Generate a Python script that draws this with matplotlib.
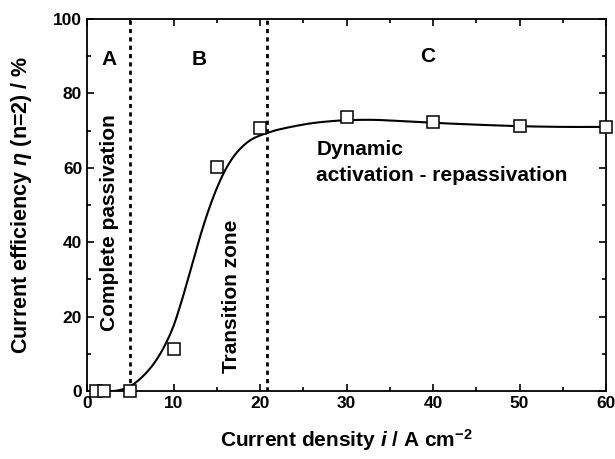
import numpy as np
import matplotlib
matplotlib.use("Agg")
from matplotlib import pyplot as plt
from matplotlib.ticker import MultipleLocator

plt.rcParams["font.family"] = ["Liberation Sans", "DejaVu Sans"]
plt.rcParams["font.weight"] = "bold"
plt.rcParams["mathtext.fontset"] = "custom"
plt.rcParams["mathtext.rm"] = "Liberation Sans:bold"
plt.rcParams["mathtext.it"] = "Liberation Sans:bold:italic"
plt.rcParams["mathtext.bf"] = "Liberation Sans:bold"

# measured points
current = [1, 2, 5, 10, 15, 20, 30, 40, 50, 60]
efficiency = [0, 0, 0, 11.2, 60.2, 70.6, 73.6, 72.3, 71.2, 71.0]

# fitted curve
fit_x = [2, 3, 4, 5, 6, 7, 8, 9, 10, 11, 12, 13, 14, 15, 16, 17, 18, 19, 20,
         21, 22, 24, 26, 28, 30, 33, 36, 40, 45, 50, 55, 60]
fit_y = [0, 0, 0.4, 1.3, 3.0, 5.3, 8.3, 12.3, 17.5, 24.7, 32.8, 41.0, 48.3,
         54.5, 59.5, 63.2, 65.8, 67.6, 68.7, 69.5, 70.2, 71.2, 72.0, 72.5,
         72.8, 72.9, 72.6, 72.1, 71.6, 71.2, 71.0, 71.0]

boundaries = [5, 20.8]


def smooth(xs, ys, n=20):
    # catmull-rom through the read points, just for a smooth stroke
    x = np.asarray(xs, float)
    y = np.asarray(ys, float)
    px = np.concatenate([[2 * x[0] - x[1]], x, [2 * x[-1] - x[-2]]])
    py = np.concatenate([[2 * y[0] - y[1]], y, [2 * y[-1] - y[-2]]])
    ox, oy = [], []
    t = np.linspace(0, 1, n, endpoint=False)
    for i in range(1, len(px) - 2):
        for p, out in ((px, ox), (py, oy)):
            p0, p1, p2, p3 = p[i - 1], p[i], p[i + 1], p[i + 2]
            out.extend(0.5 * (2 * p1 + (p2 - p0) * t
                              + (2 * p0 - 5 * p1 + 4 * p2 - p3) * t ** 2
                              + (3 * p1 - p0 - 3 * p2 + p3) * t ** 3))
    ox.append(x[-1])
    oy.append(y[-1])
    return ox, oy


fig = plt.figure(figsize=(6.15, 4.59), dpi=100)
ax = fig.add_axes([0.1415, 0.148, 0.844, 0.8106])

sx, sy = smooth(fit_x, fit_y)
ax.plot(sx, sy, color="black", lw=1.5, zorder=2)
ax.plot(current, efficiency, ls="none", marker="s", ms=8.5, mfc="white",
        mec="black", mew=1.1, zorder=3, clip_on=False)
for b in boundaries:
    ax.axvline(b, color="black", lw=2.0, ls=(0, (1.5, 1.5)), zorder=1)

ax.set_xlim(0, 60)
ax.set_ylim(0, 100)
ax.xaxis.set_major_locator(MultipleLocator(10))
ax.xaxis.set_minor_locator(MultipleLocator(5))
ax.yaxis.set_major_locator(MultipleLocator(20))
ax.yaxis.set_minor_locator(MultipleLocator(10))
ax.tick_params(which="both", direction="in", top=True, right=True,
               width=1.2, labelsize=12.5)
ax.tick_params(which="major", length=5)
ax.tick_params(which="minor", length=3)
for s in ax.spines.values():
    s.set_linewidth(1.3)

ax.set_xlabel(r"Current density $\mathit{i}$ / A cm$^{\mathbf{-2}}$",
              fontsize=15, fontweight="bold", labelpad=12)
ax.set_ylabel(r"Current efficiency $\eta$ (n=2) / %", fontsize=15.5,
              fontweight="bold", labelpad=14)

ax.text(2.5, 89, "A", fontsize=15, fontweight="bold", ha="center", va="center")
ax.text(13, 89, "B", fontsize=15, fontweight="bold", ha="center", va="center")
ax.text(39.4, 90, "C", fontsize=15, fontweight="bold", ha="center", va="center")
ax.text(2.6, 45.4, "Complete passivation", fontsize=15, fontweight="bold",
        rotation=90, ha="center", va="center")
ax.text(16.7, 25.5, "Transition zone", fontsize=15, fontweight="bold",
        rotation=90, ha="center", va="center")
ax.text(26.5, 61.5, "Dynamic\nactivation - repassivation", fontsize=15,
        fontweight="bold", ha="left", va="center", linespacing=1.45)

fig.savefig("out.png", dpi=100)
